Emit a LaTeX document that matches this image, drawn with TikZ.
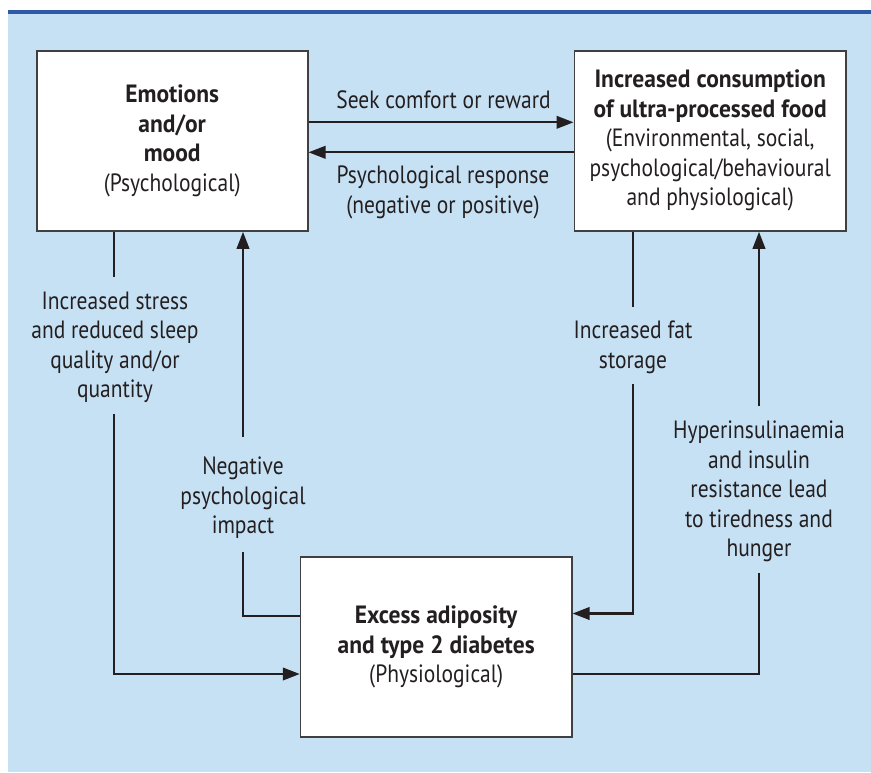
\documentclass[tikz,border=0pt]{standalone}
\usepackage{fontspec}
\setmainfont{PT Sans}[BoldFont={PT Sans Bold}, UprightFeatures={FakeStretch=0.86}, BoldFeatures={FakeStretch=0.94}]
\usetikzlibrary{arrows.meta,calc}
\definecolor{bgblue}{HTML}{C7E1F4}
\definecolor{topblue}{HTML}{2F58A8}
\definecolor{ink}{HTML}{231F20}
\definecolor{boxline}{HTML}{404040}
\tikzset{
  box/.style={draw=boxline, line width=1.6pt, fill=white, align=center, inner sep=0pt,
    font=\fontsize{25}{29.5}\selectfont, text=ink},
  lbl/.style={align=center, inner sep=0pt, font=\fontsize{25}{29.5}\selectfont, text=ink},
  conn/.style={draw=ink, line width=2.3pt},
  arr/.style={conn, -{Triangle[length=17pt,width=12.5pt]}}
}
\begin{document}
\begin{tikzpicture}[x=1pt,y=-1pt]
\useasboundingbox (0,0) rectangle (871,772);
\fill[white] (0,0) rectangle (871,772);
\fill[bgblue] (7.8,13.3) rectangle (871,772);
\fill[topblue] (7.8,10) rectangle (871,13.6);

% boxes
\node[box, minimum width=271pt, minimum height=180.3pt] (emo) at (172.2,140.85)
  {\textbf{Emotions}\\ \textbf{and/or}\\ \textbf{mood}\\ (Psychological)};
\node[box, minimum width=271.7pt, minimum height=180.3pt] (food) at (710.2,140.85)
  {\textbf{Increased consumption}\\ \textbf{of ultra-processed food}\\ (Environmental, social,\\ psychological/behavioural\\ and physiological)};
\node[box, minimum width=271.2pt, minimum height=180pt] (adip) at (436.2,647)
  {\textbf{Excess adiposity}\\ \textbf{and type 2 diabetes}\\ (Physiological)};

% labels
\node[lbl] (seek) at (443.5,99.5) {Seek comfort or reward};
\node[lbl] (resp) at (443,192.5) {Psychological response\\ (negative or positive)};
\node[lbl] (stress) at (115,347.5) {Increased stress\\ and reduced sleep\\ quality and/or\\ quantity};
\node[lbl] (neg) at (243,498) {Negative\\ psychological\\ impact};
\node[lbl] (fat) at (633,347.5) {Increased fat\\ storage};
\node[lbl] (hyp) at (759,491.5) {Hyperinsulinaemia\\ and insulin\\ resistance lead\\ to tiredness and\\ hunger};

% helper coordinates
\coordinate (yA) at (0,122.3);
\coordinate (yB) at (0,152.3);
\coordinate (yL) at (0,674);
\coordinate (yN) at (0,616);
\coordinate (yF) at (0,613.5);
\coordinate (s1) at (114,276.7);
\coordinate (s2) at (114,414);
\coordinate (n1) at (243,437);
\coordinate (n2) at (243,552);
\coordinate (f1) at (633,306.7);
\coordinate (f2) at (633,384);
\coordinate (h1) at (759,406);
\coordinate (h2) at (759,573);

% connectors
\draw[arr] (emo.east |- yA) -- (food.west |- yA);
\draw[arr] (food.west |- yB) -- (emo.east |- yB);
\draw[conn] (emo.south -| s1) -- (s1);
\draw[arr] (s2) |- (adip.west |- yL);
\draw[conn] (adip.west |- yN) -| (n2);
\draw[arr] (n1) -- (emo.south -| n1);
\draw[conn] (food.south -| f1) -- (f1);
\draw[arr] (f2) |- (adip.east |- yF);
\draw[conn] (adip.east |- yL) -| (h2);
\draw[arr] (h1) -- (food.south -| h1);
\end{tikzpicture}
\end{document}
